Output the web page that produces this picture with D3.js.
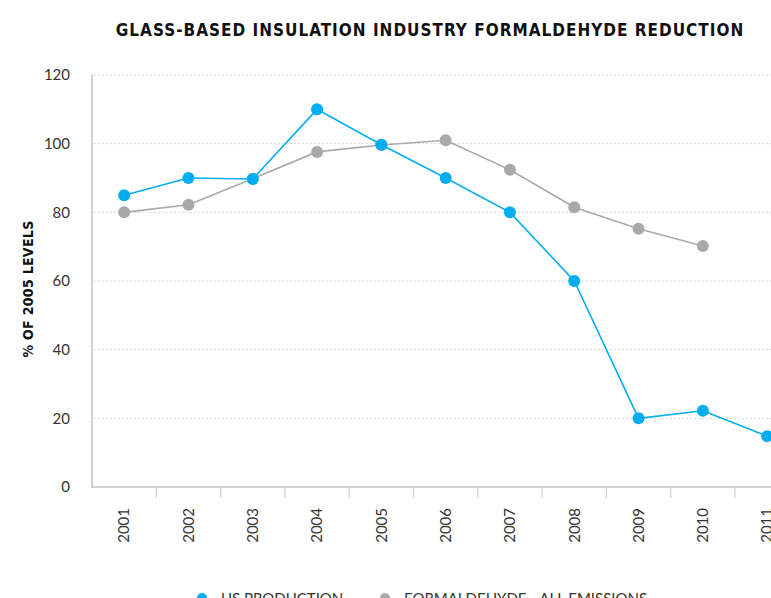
<!DOCTYPE html>
<html>
<head>
<meta charset="utf-8">
<script src="https://cdn.jsdelivr.net/npm/d3@7"></script>
<style>
  body { margin: 0; background: #fff; }
  svg { display: block; font-family: "Lato", "Noto Sans", sans-serif; }
</style>
</head>
<body>
<div id="chart"></div>
<script>
var years = ["2001", "2002", "2003", "2004", "2005", "2006", "2007", "2008", "2009", "2010", "2011"];
var usProduction = [85, 90, 89.7, 110, 99.7, 90, 80, 60, 20, 22.2, 14.8];
var formaldehyde = [80, 82.2, 89.8, 97.6, 99.6, 101, 92.4, 81.5, 75.2, 70.2, null];
var yTicks = [0, 20, 40, 60, 80, 100, 120];
var seriesNames = ["US PRODUCTION", "FORMALDEHYDE - ALL EMISSIONS"];
var seriesColors = ["#00aeef", "#a7a9ac"];

var width = 771, height = 598;
var plotLeft = 92, plotTop = 75, plotBottom = 487;
var band = 64.3;

var svg = d3.select("#chart").append("svg")
  .attr("width", width)
  .attr("height", height);

var x = d3.scaleBand()
  .domain(years)
  .range([plotLeft, plotLeft + band * years.length])
  .padding(0);

var y = d3.scaleLinear()
  .domain([0, 120])
  .range([plotBottom, plotTop]);

// grid
svg.append("g")
  .selectAll("line")
  .data(yTicks.filter(function (d) { return d > 0; }))
  .enter().append("line")
  .attr("x1", plotLeft + 2)
  .attr("x2", width)
  .attr("y1", function (d) { return y(d); })
  .attr("y2", function (d) { return y(d); })
  .attr("stroke", "#c8c8c8")
  .attr("stroke-width", 1)
  .attr("stroke-dasharray", "1.5,2.5");

// y labels
svg.append("g")
  .selectAll("text")
  .data(yTicks)
  .enter().append("text")
  .attr("x", 70)
  .attr("y", function (d) { return y(d); })
  .attr("dy", "0.35em")
  .attr("text-anchor", "end")
  .attr("font-size", 15)
  .attr("fill", "#333")
  .text(function (d) { return d; });

// axis lines
svg.append("line")
  .attr("x1", plotLeft).attr("x2", plotLeft)
  .attr("y1", plotTop).attr("y2", plotBottom)
  .attr("stroke", "#cfcfcf").attr("stroke-width", 2);
svg.append("line")
  .attr("x1", plotLeft - 1).attr("x2", width)
  .attr("y1", plotBottom).attr("y2", plotBottom)
  .attr("stroke", "#cfcfcf").attr("stroke-width", 2);

// x ticks at band boundaries
svg.append("g")
  .selectAll("line")
  .data(years.slice(1))
  .enter().append("line")
  .attr("x1", function (d) { return x(d); })
  .attr("x2", function (d) { return x(d); })
  .attr("y1", plotBottom)
  .attr("y2", plotBottom + 11)
  .attr("stroke", "#cfcfcf")
  .attr("stroke-width", 1.2);

svg.append("g")
  .selectAll("text")
  .data(years)
  .enter().append("text")
  .attr("transform", function (d) {
    return "translate(" + (x(d) + x.bandwidth() / 2) + "," + 508 + ") rotate(-90)";
  })
  .attr("dy", "0.35em")
  .attr("text-anchor", "end")
  .attr("font-size", 15)
  .attr("fill", "#333")
  .text(function (d) { return d; });

// series
var series = [usProduction, formaldehyde];
var line = d3.line()
  .defined(function (d) { return d != null; })
  .x(function (d, i) { return x(years[i]) + x.bandwidth() / 2; })
  .y(function (d) { return y(d); });

[1, 0].forEach(function (s) {
  var g = svg.append("g");
  g.append("path")
    .datum(series[s])
    .attr("d", line)
    .attr("fill", "none")
    .attr("stroke", seriesColors[s])
    .attr("stroke-width", 1.6);
  g.selectAll("circle")
    .data(series[s].map(function (v, i) { return { v: v, i: i }; }).filter(function (d) { return d.v != null; }))
    .enter().append("circle")
    .attr("cx", function (d) { return x(years[d.i]) + x.bandwidth() / 2; })
    .attr("cy", function (d) { return y(d.v); })
    .attr("r", 6)
    .attr("fill", seriesColors[s]);
});

// title
svg.append("text")
  .attr("x", 430)
  .attr("y", 36)
  .attr("text-anchor", "middle")
  .attr("font-family", "'DejaVu Sans Condensed', 'DejaVu Sans', sans-serif")
  .attr("font-weight", "bold")
  .attr("font-size", 17)
  .attr("letter-spacing", 1)
  .attr("fill", "#111")
  .text("GLASS-BASED INSULATION INDUSTRY FORMALDEHYDE REDUCTION");

// y axis title
svg.append("text")
  .attr("transform", "translate(28,289) rotate(-90)")
  .attr("dy", "0.35em")
  .attr("text-anchor", "middle")
  .attr("font-family", "'DejaVu Sans Condensed', 'DejaVu Sans', sans-serif")
  .attr("font-weight", "bold")
  .attr("font-size", 14)
  .attr("letter-spacing", 0.3)
  .attr("fill", "#111")
  .text("% OF 2005 LEVELS");

// legend
var legendX = [202, 385];
seriesNames.forEach(function (name, s) {
  svg.append("circle")
    .attr("cx", legendX[s])
    .attr("cy", 598)
    .attr("r", 5)
    .attr("fill", seriesColors[s]);
  svg.append("text")
    .attr("x", legendX[s] + 19)
    .attr("y", 604)
    .attr("font-size", 15)
    .attr("fill", "#333")
    .text(name);
});
</script>
</body>
</html>
